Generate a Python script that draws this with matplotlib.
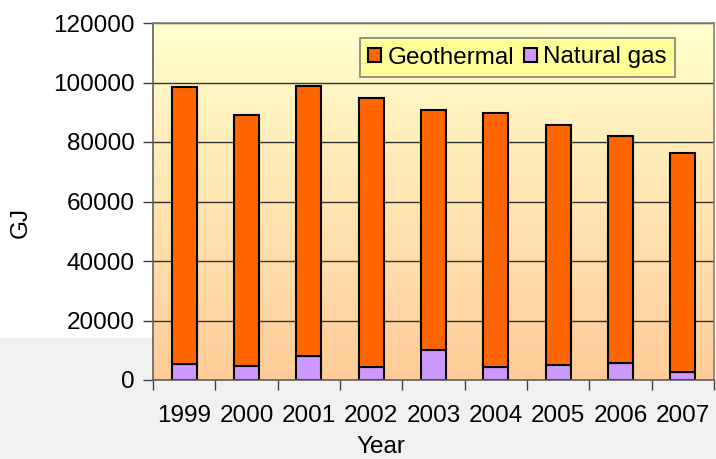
import numpy as np
import matplotlib.pyplot as plt
from matplotlib.patches import Rectangle, Patch

years = ["1999", "2000", "2001", "2002", "2003", "2004", "2005", "2006", "2007"]
natural_gas = [5400, 4800, 8100, 4300, 10100, 4300, 5200, 5800, 2600]
geothermal = [93000, 84200, 90600, 90600, 80700, 85300, 80600, 76100, 73800]
y_ticks = [0, 20000, 40000, 60000, 80000, 100000, 120000]

plt.rcParams['font.family'] = ['Liberation Sans', 'DejaVu Sans']

fig = plt.figure(figsize=(7.16, 4.59), dpi=100)
fig.patch.set_facecolor('#f1f1f1')
# white slide area in the upper part of the figure
fig.add_artist(Rectangle((0, 1 - 338 / 459), 1, 338 / 459, transform=fig.transFigure,
                         facecolor='white', edgecolor='none', zorder=-10))

ax = fig.add_axes([153 / 716, 1 - 380 / 459, 561 / 716, 357 / 459])

# vertical gradient fill of the plot area
grad = np.linspace(0, 1, 256).reshape(-1, 1)
top = np.array([1.0, 1.0, 0.80])
bottom = np.array([1.0, 0.80, 0.60])
img = top * (1 - grad[..., None]) + bottom * grad[..., None]
ax.imshow(img, extent=[0, 1, 0, 1], transform=ax.transAxes, aspect='auto', zorder=0,
          interpolation='bilinear')

x = np.arange(len(years))
w = 0.4
ax.bar(x, natural_gas, w, color='#cc99ff', edgecolor='black', linewidth=1.5, zorder=2,
       label='Natural gas')
ax.bar(x, geothermal, w, bottom=natural_gas, color='#ff6600', edgecolor='black',
       linewidth=1.5, zorder=2, label='Geothermal')

ax.set_xlim(-0.5, len(years) - 0.5)
ax.set_ylim(0, 120000)
ax.set_yticks(y_ticks)
ax.set_yticklabels([str(v) for v in y_ticks], fontsize=17.5)
ax.set_xticks(x)
ax.set_xticklabels(years, fontsize=17.5)
ax.set_xticks(np.arange(-0.5, len(years), 1), minor=True)
ax.tick_params(axis='x', which='major', length=0, pad=18)
ax.tick_params(axis='x', which='minor', length=7, width=1, color='#404040', direction='out')
ax.tick_params(axis='y', length=7, width=1, color='#404040', direction='out', pad=6)

ax.set_axisbelow(True)
ax.yaxis.grid(True, color='#333333', linewidth=1.0)
ax.set_zorder(1)
for side in ['top', 'right']:
    ax.spines[side].set_color('#808080')
    ax.spines[side].set_linewidth(1.2)
for side in ['left', 'bottom']:
    ax.spines[side].set_color('#606060')
    ax.spines[side].set_linewidth(1.2)

ax.set_ylabel('GJ', fontsize=17.5)
ax.set_xlabel('Year', fontsize=17.5)
ax.yaxis.set_label_coords(-0.216, 0.44)
ax.xaxis.set_label_coords(0.406, -0.158)

handles = [Patch(facecolor='#ff6600', edgecolor='black', linewidth=1.5),
           Patch(facecolor='#cc99ff', edgecolor='black', linewidth=1.5)]
leg = ax.legend(handles, ['Geothermal', 'Natural gas'], ncol=2, fontsize=17.5,
                loc='center', bbox_to_anchor=((368 + 667) / 2 / 716, 1 - (35 + 80) / 2 / 459),
                bbox_transform=fig.transFigure, frameon=True, fancybox=False,
                handlelength=0.55, handleheight=0.55, handletextpad=0.25,
                columnspacing=0.4, borderpad=0.35, borderaxespad=0)
leg.get_frame().set_facecolor('#ffff99')
leg.get_frame().set_edgecolor('#808080')
leg.get_frame().set_linewidth(1.2)
leg.get_frame().set_alpha(1)

fig.savefig('out.png', dpi=100, facecolor=fig.get_facecolor())
